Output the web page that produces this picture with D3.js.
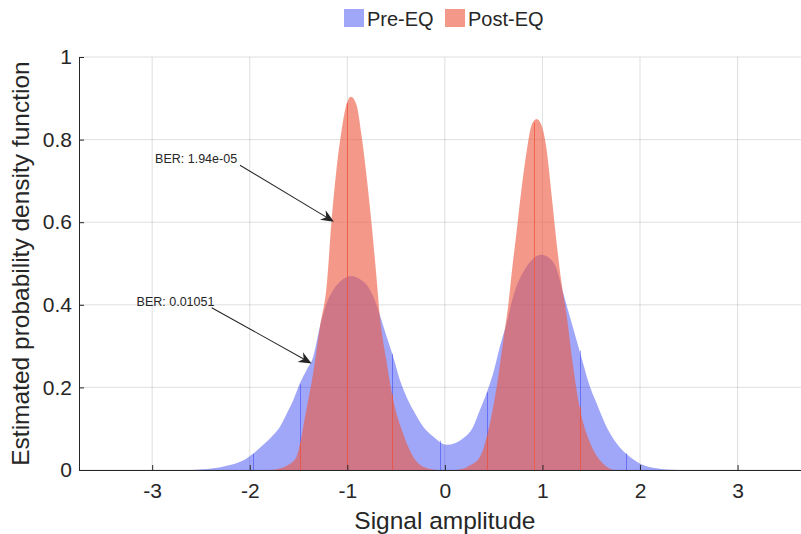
<!DOCTYPE html>
<html>
<head>
<meta charset="utf-8">
<script src="https://cdn.jsdelivr.net/npm/d3@7"></script>
<style>
  body { margin: 0; background: #fff; }
  svg { font-family: "Liberation Sans", Arial, Helvetica, sans-serif; }
</style>
</head>
<body>
<div id="chart"></div>
<script>
// Pre-EQ estimated pdf (signal amplitude, density)
const preX = [-2.6, -2.374, -2.203, -2.032, -1.964, -1.862, -1.759, -1.69, -1.62, -1.554, -1.486, -1.417,
  -1.349, -1.281, -1.212, -1.144, -1.076, -1.007, -0.956, -0.871, -0.80, -0.734, -0.666, -0.597, -0.53,
  -0.461, -0.393, -0.325, -0.222, -0.12, 0.017, 0.188, 0.29, 0.359, 0.427, 0.495, 0.564, 0.632, 0.70,
  0.769, 0.837, 0.905, 0.99, 1.076, 1.144, 1.213, 1.281, 1.349, 1.417, 1.486, 1.554, 1.656, 1.759,
  1.895, 2.032, 2.237, 2.4];
const preY = [0, 0.004, 0.012, 0.028, 0.040, 0.061, 0.085, 0.105, 0.137, 0.169, 0.210, 0.242,
  0.274, 0.347, 0.404, 0.436, 0.456, 0.467, 0.470, 0.462, 0.448, 0.420, 0.375, 0.323, 0.274,
  0.218, 0.177, 0.145, 0.105, 0.081, 0.061, 0.077, 0.105, 0.145, 0.186, 0.234, 0.299, 0.355, 0.420,
  0.464, 0.492, 0.512, 0.521, 0.512, 0.488, 0.428, 0.371, 0.315, 0.258, 0.202, 0.162, 0.105, 0.065,
  0.032, 0.012, 0.002, 0];

// Post-EQ estimated pdf
const postX = [-1.8, -1.72, -1.62, -1.52, -1.42, -1.35, -1.28, -1.21, -1.16, -1.11, -1.06, -1.01,
  -0.963, -0.905, -0.854, -0.80, -0.75, -0.70, -0.666, -0.60, -0.53, -0.43, -0.325, -0.19, -0.05,
  0.12, 0.25, 0.36, 0.43, 0.53, 0.60, 0.65, 0.69, 0.735, 0.786, 0.837, 0.888, 0.94, 0.99, 1.04,
  1.09, 1.14, 1.196, 1.25, 1.31, 1.38, 1.49, 1.62, 1.75, 1.9];
const postY = [0, 0.002, 0.01, 0.032, 0.145, 0.234, 0.347, 0.45, 0.609, 0.73, 0.82, 0.884,
  0.904, 0.884, 0.81, 0.706, 0.593, 0.464, 0.371, 0.266, 0.17, 0.089, 0.032, 0.005, 0,
  0, 0.01, 0.032, 0.081, 0.20, 0.315, 0.40, 0.488, 0.577, 0.682, 0.77, 0.835, 0.85, 0.835, 0.78,
  0.674, 0.561, 0.452, 0.371, 0.258, 0.153, 0.065, 0.016, 0, 0];

// darker stems seen inside each histogram
const preStems = [-1.97, -1.49, -0.54, -0.05, 0.43, 1.38, 1.86];
const postStems = [-1.49, -1.0, -0.54, 0.43, 0.91, 1.38];

const seriesNames = ["Pre-EQ", "Post-EQ"];
const xTicks = [-3, -2, -1, 0, 1, 2, 3];
const yTicks = [0, 0.2, 0.4, 0.6, 0.8, 1];

// annotations: label, text anchor, arrow start, arrow tip (data units)
const notes = [
  { text: "BER: 1.94e-05", tx: -2.97, ty: 0.744, x0: -2.10, y0: 0.738, x1: -1.137, y1: 0.601 },
  { text: "BER: 0.01051", tx: -3.16, ty: 0.396, x0: -2.39, y0: 0.393, x1: -1.366, y1: 0.258 }
];

const width = 801, height = 534;
const blue = "rgb(17,32,237)", red = "rgb(237,88,63)";

const svg = d3.select("#chart").append("svg")
  .attr("width", width).attr("height", height);

const x = d3.scaleLinear().domain([-3.75, 3.65]).range([79, 801]);
const y = d3.scaleLinear().domain([0, 1]).range([470, 57]);

// grid
svg.append("g").selectAll("line").data(xTicks).join("line")
  .attr("x1", d => x(d)).attr("x2", d => x(d))
  .attr("y1", y(0)).attr("y2", y(1))
  .attr("stroke", "rgba(38,38,38,0.15)");
svg.append("g").selectAll("line").data(yTicks).join("line")
  .attr("x1", x.range()[0]).attr("x2", x.range()[1])
  .attr("y1", d => y(d)).attr("y2", d => y(d))
  .attr("stroke", "rgba(38,38,38,0.15)");

function drawSeries(xs, ys, stems, color, alpha, stemAlpha) {
  const pts = xs.map((v, i) => [v, ys[i]]);
  const area = d3.area()
    .x(d => x(d[0])).y0(y(0)).y1(d => y(d[1]))
    .curve(d3.curveMonotoneX);
  svg.append("path").datum(pts)
    .attr("d", area)
    .attr("fill", color).attr("fill-opacity", alpha);
  const h = d3.scaleLinear().domain(xs).range(ys);
  svg.append("g").selectAll("line").data(stems).join("line")
    .attr("x1", d => Math.round(x(d)) + 0.5).attr("x2", d => Math.round(x(d)) + 0.5)
    .attr("y1", y(0)).attr("y2", d => y(h(d)))
    .attr("stroke", color).attr("stroke-opacity", stemAlpha);
}
drawSeries(preX, preY, preStems, blue, 0.4, 0.4);
drawSeries(postX, postY, postStems, red, 0.61, 0.8);

// axes
const xAxis = d3.axisBottom(x).tickValues(xTicks).tickFormat(d => String(d))
  .tickSizeInner(-5).tickSizeOuter(0).tickPadding(14);
const gx = svg.append("g").attr("transform", `translate(0,${y(0)})`).call(xAxis);
const yAxis = d3.axisLeft(y).tickValues(yTicks).tickFormat(d => String(d))
  .tickSizeInner(-5).tickSizeOuter(0).tickPadding(7);
const gy = svg.append("g").attr("transform", `translate(${x.range()[0]},0)`).call(yAxis);
[gx, gy].forEach(g => {
  g.select(".domain").attr("stroke", "#262626");
  g.selectAll(".tick line").attr("stroke", "#262626");
  g.selectAll("text").attr("fill", "#262626")
    .style("font-family", "'Liberation Sans', Arial, sans-serif").style("font-size", "21px");
});
gx.selectAll("text").attr("dy", "0.68em");

svg.append("text")
  .attr("x", x(0)).attr("y", 529)
  .attr("text-anchor", "middle").attr("fill", "#262626")
  .style("font-size", "24.5px")
  .text("Signal amplitude");
svg.append("text")
  .attr("transform", `translate(29,${(y(0) + y(1)) / 2}) rotate(-90)`)
  .attr("text-anchor", "middle").attr("fill", "#262626")
  .style("font-size", "24.5px")
  .text("Estimated probability density function");

// annotations
notes.forEach(n => {
  svg.append("text")
    .attr("x", x(n.tx)).attr("y", y(n.ty))
    .attr("fill", "#262626").style("font-size", "12.5px")
    .text(n.text);
  const ax0 = x(n.x0), ay0 = y(n.y0), ax1 = x(n.x1), ay1 = y(n.y1);
  const ang = Math.atan2(ay1 - ay0, ax1 - ax0);
  const len = Math.hypot(ax1 - ax0, ay1 - ay0);
  const g = svg.append("g")
    .attr("transform", `translate(${ax0},${ay0}) rotate(${ang * 180 / Math.PI})`);
  g.append("line").attr("x1", 0).attr("y1", 0).attr("x2", len - 6).attr("y2", 0)
    .attr("stroke", "#262626").attr("stroke-width", 1);
  g.append("path")
    .attr("d", `M${len},0 L${len - 13},-5.5 L${len - 9},0 L${len - 13},5.5 Z`)
    .attr("fill", "#262626");
});

// legend
const legColors = ["#a0a6f8", "#f4998a"];
const legX = [344, 445];
const leg = svg.append("g").selectAll("g").data(seriesNames).join("g")
  .attr("transform", (d, i) => `translate(${legX[i]},9)`);
leg.append("rect").attr("width", 20).attr("height", 18)
  .attr("fill", (d, i) => legColors[i]);
leg.append("text").attr("x", 23).attr("y", 16.5)
  .attr("fill", "#262626").style("font-size", "20px")
  .text(d => d);
</script>
</body>
</html>
